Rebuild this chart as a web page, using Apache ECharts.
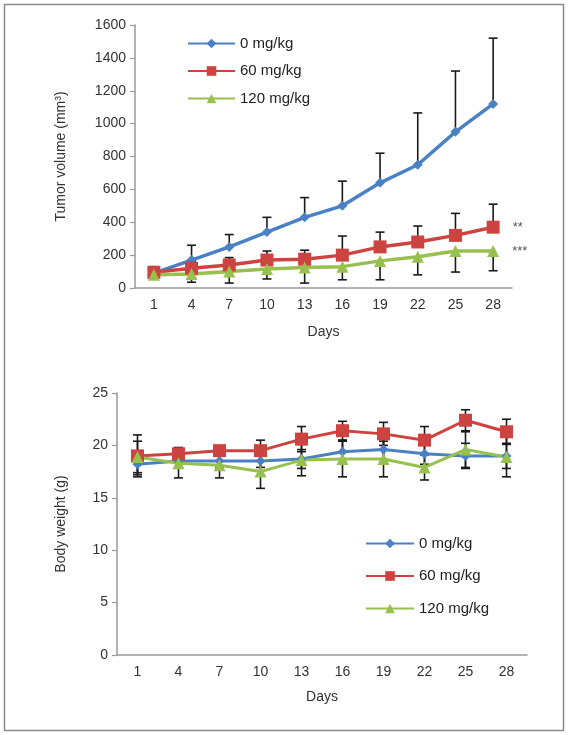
<!DOCTYPE html>
<html><head><meta charset="utf-8">
<script src="https://cdn.jsdelivr.net/npm/echarts@6/dist/echarts.min.js"></script>
<style>html,body{margin:0;padding:0;background:#fff}#c{width:572px;height:735px}</style>
</head><body><div id="c"></div>
<script>
const days = ['1','4','7','10','13','16','19','22','25','28'];
const seriesNames = ['0 mg/kg','60 mg/kg','120 mg/kg'];
// Tumor volume (mm3)
const tv0 = [90,170,250,340,430,500,640,750,950,1120];
const tv60 = [95,120,140,170,175,200,250,280,320,370];
const tv120 = [80,85,100,115,125,130,165,190,225,225];
const tv0ErrUp = [30,90,75,90,120,150,180,315,370,400];
const tv60ErrUp = [35,40,45,55,55,116,90,97,134,140];
const tv120ErrDown = [15,50,70,60,95,80,115,110,128,120];
const tvSignif = ['', '**', '***'];
// Body weight (g)
const bw0 = [18.2,18.5,18.5,18.5,18.7,19.4,19.6,19.2,19.0,19.0];
const bw60 = [19.0,19.2,19.5,19.5,20.6,21.4,21.1,20.5,22.4,21.3];
const bw120 = [18.9,18.3,18.1,17.5,18.6,18.7,18.7,17.9,19.6,18.9];
const bw0Err = [1.0,0.6,0.6,0.6,0.9,1.1,1.2,1.0,1.2,1.2];
const bw60Err = [2.0,0.6,0.4,1.0,1.2,0.9,1.1,1.3,1.0,1.2];
const bw120Err = [1.5,1.4,1.2,1.6,1.5,1.7,1.7,1.2,1.7,1.9];

const colors = ['#4a80c4','#cc4340','#98c04e'];
const symbols = ['diamond','rect','triangle'];
const symSizes = [10,13,12];
const FONT = 'Liberation Sans, Arial, sans-serif';

function errRender(params, api){
  const x = api.value(0), lo = api.value(1), hi = api.value(2);
  const capLo = api.value(3), capHi = api.value(4);
  const p1 = api.coord([x, lo]), p2 = api.coord([x, hi]);
  const cw = 4.5;
  const st = {stroke:'#1a1a1a', lineWidth:1.6};
  const ch = [{type:'line', shape:{x1:p1[0],y1:p1[1],x2:p2[0],y2:p2[1]}, style:st}];
  if (capLo) ch.push({type:'line', shape:{x1:p1[0]-cw,y1:p1[1],x2:p1[0]+cw,y2:p1[1]}, style:st});
  if (capHi) ch.push({type:'line', shape:{x1:p2[0]-cw,y1:p2[1],x2:p2[0]+cw,y2:p2[1]}, style:st});
  return {type:'group', children:ch};
}
function errSeries(idx, vals, up, down, capLo, capHi){
  return {type:'custom', xAxisIndex:idx, yAxisIndex:idx, renderItem:errRender, silent:true, z:1,
    encode:{x:0,y:[1,2]},
    data: vals.map((v,i)=>[i, v-(down?down[i]:0), v+(up?up[i]:0), capLo, capHi])};
}
function lineSeries(idx, k, vals, lw, sig){
  return {type:'line', name:seriesNames[k], xAxisIndex:idx, yAxisIndex:idx, z:3,
    symbol:symbols[k], symbolSize:symSizes[k], color:colors[k],
    lineStyle:{width:lw, color:colors[k]}, itemStyle:{color:colors[k]},
    data: vals.map((v,i)=> (sig && i===vals.length-1) ? {value:v, label:{show:true, formatter:sig, position:'right', distance:13, color:'#555', fontSize:13, fontFamily:FONT}} : v)};
}
const axisLine = {lineStyle:{color:'#9a9a9a', width:1.5}};
const axisTick = {lineStyle:{color:'#9a9a9a', width:1.2}, length:5};
const axisLabel = {color:'#333', fontSize:14, fontFamily:FONT};
function xAx(idx, gap){
  return {type:'category', gridIndex:idx, data:days, boundaryGap:true, axisLine, axisTick, axisLabel:Object.assign({margin:10},axisLabel),
    name:'Days', nameLocation:'middle', nameGap:gap, nameTextStyle:{color:'#333', fontSize:14, fontFamily:FONT}};
}
function yAx(idx, max, interval, name, gap){
  return {type:'value', gridIndex:idx, min:0, max, interval, axisLine:Object.assign({show:true},axisLine), axisTick:Object.assign({show:true},axisTick),
    splitLine:{show:false}, axisLabel:Object.assign({margin:9, formatter:v=>String(v)},axisLabel),
    name, nameLocation:'middle', nameGap:gap, nameTextStyle:{color:'#333', fontSize:14, fontFamily:FONT}};
}
const chart = echarts.init(document.getElementById('c'), null, {renderer:'canvas'});
chart.setOption({
  animation:false,
  backgroundColor:'#fff',
  graphic:[{type:'rect', shape:{x:4.5,y:4.5,width:559,height:726}, style:{fill:'none', stroke:'#8a8a8a', lineWidth:1.5}}],
  grid:[{left:135, right:60, top:25, height:263}, {left:117, right:45, top:393, height:262}],
  xAxis:[xAx(0,37), xAx(1,35)],
  yAxis:[yAx(0,1600,200,'Tumor volume (mm³)',67), yAx(1,25,5,'Body weight (g)',49)],
  legend:[
    {data:seriesNames, orient:'vertical', left:182, top:31, itemWidth:47, itemHeight:12, itemGap:12.5,
     textStyle:{color:'#222', fontSize:15, fontFamily:FONT}},
    {data:seriesNames, orient:'vertical', left:360, top:531, itemWidth:48, itemHeight:12, itemGap:17.5,
     textStyle:{color:'#222', fontSize:15, fontFamily:FONT}}
  ],
  series:[
    errSeries(0, tv0, tv0ErrUp, null, false, true),
    errSeries(0, tv60, tv60ErrUp, null, false, true),
    errSeries(0, tv120, null, tv120ErrDown, true, false),
    lineSeries(0, 0, tv0, 3.5, tvSignif[0]),
    lineSeries(0, 1, tv60, 3.5, tvSignif[1]),
    lineSeries(0, 2, tv120, 3.5, tvSignif[2]),
    errSeries(1, bw0, bw0Err, bw0Err, true, true),
    errSeries(1, bw60, bw60Err, bw60Err, true, true),
    errSeries(1, bw120, bw120Err, bw120Err, true, true),
    lineSeries(1, 0, bw0, 3, ''),
    lineSeries(1, 1, bw60, 3, ''),
    lineSeries(1, 2, bw120, 3, '')
  ]
});
</script></body></html>
